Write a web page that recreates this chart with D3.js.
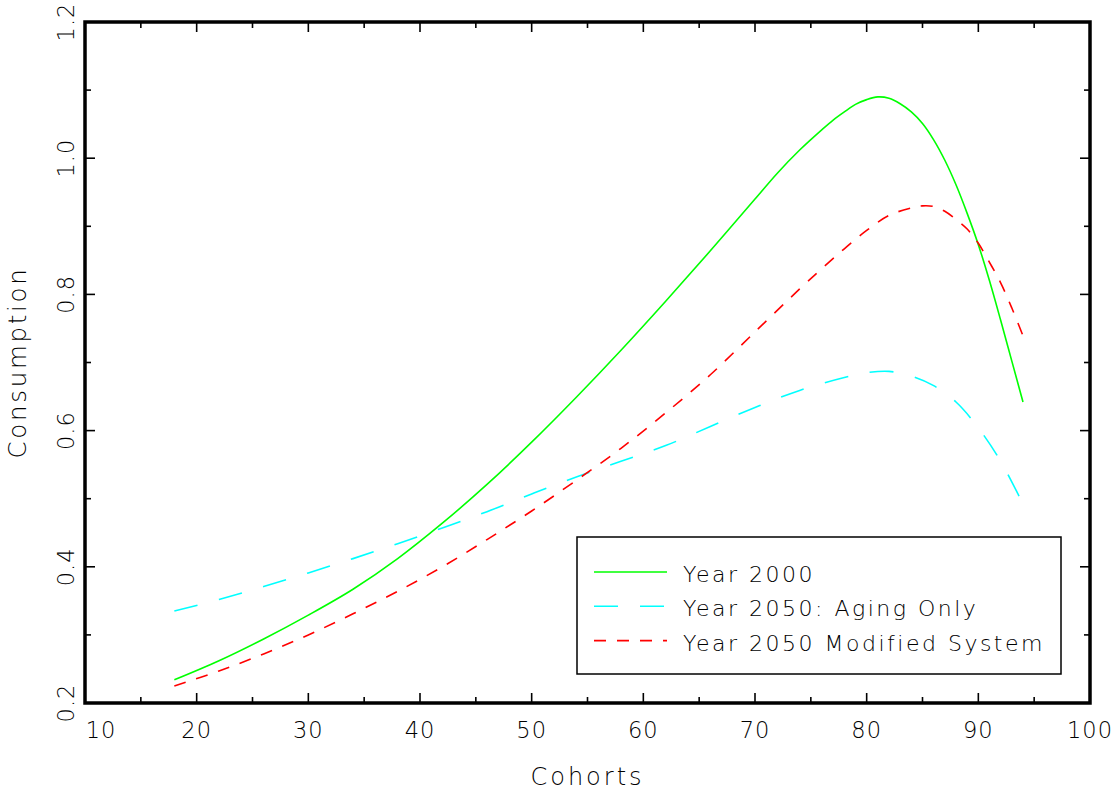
<!DOCTYPE html>
<html>
<head>
<meta charset="utf-8">
<script src="https://cdn.jsdelivr.net/npm/d3@7"></script>
<style>
  body { margin: 0; background: #fff; }
  text { font-family: 'DejaVu Sans', sans-serif; font-weight: 300; fill: #000; }
</style>
</head>
<body>
<div id="chart-1"></div>
<script>
// values
let ages2000 = [18, 22, 26, 30, 34, 38, 42, 46, 50, 54, 58, 62, 66, 70, 72, 74, 76, 77, 78, 79, 80, 81, 82, 83, 84, 85, 86, 87, 88, 89, 90, 91, 92, 93, 94]
let year2000 = [0.234, 0.262, 0.294, 0.329, 0.367, 0.412, 0.464, 0.521, 0.583, 0.649, 0.718, 0.790, 0.864, 0.940, 0.978, 1.012, 1.042, 1.056, 1.068, 1.079, 1.086, 1.090, 1.088, 1.080, 1.068, 1.051, 1.027, 0.997, 0.961, 0.919, 0.873, 0.820, 0.762, 0.702, 0.642]

let agesAging = [18, 22, 26, 30, 34, 38, 42, 46, 50, 54, 58, 62, 66, 70, 74, 78, 80, 82, 84, 86, 88, 90, 92, 94]
let year2050Aging = [0.335, 0.352, 0.371, 0.391, 0.412, 0.434, 0.457, 0.481, 0.507, 0.532, 0.555, 0.578, 0.606, 0.634, 0.659, 0.678, 0.685, 0.687, 0.680, 0.666, 0.642, 0.604, 0.555, 0.492]

let agesModified = [18, 22, 26, 30, 34, 38, 42, 46, 50, 54, 58, 62, 66, 70, 74, 76, 78, 80, 82, 84, 85, 86, 87, 88, 89, 90, 91, 92, 93, 94]
let year2050Modified = [0.225, 0.247, 0.272, 0.300, 0.331, 0.364, 0.400, 0.440, 0.482, 0.527, 0.574, 0.626, 0.682, 0.745, 0.808, 0.838, 0.867, 0.894, 0.916, 0.927, 0.930, 0.929, 0.922, 0.910, 0.896, 0.875, 0.847, 0.817, 0.780, 0.739]

let legendLabels = ['Year 2000', 'Year 2050: Aging Only', 'Year 2050 Modified System']
let xTicks = [10, 20, 30, 40, 50, 60, 70, 80, 90, 100]
let yTicks = [0.2, 0.4, 0.6, 0.8, 1.0, 1.2]

let margin = { top: 22, left: 85, right: 23, bottom: 88 }
let width = 1113 - margin.left - margin.right
let height = 791 - margin.top - margin.bottom

let svg = d3
  .select('#chart-1')
  .append('svg')
  .attr('width', 1113)
  .attr('height', 791)
  .append('g')
  .attr('transform', 'translate(' + margin.left + ',' + margin.top + ')')

let x = d3.scaleLinear().domain([10, 100]).range([0, width])
let y = d3.scaleLinear().domain([0.2, 1.2]).range([height, 0])

let series = [
  { ages: ages2000, values: year2000, color: '#00ff00', dash: null },
  { ages: agesAging, values: year2050Aging, color: '#00ffff', dash: '24,22' },
  { ages: agesModified, values: year2050Modified, color: '#ff0000', dash: '12,11' }
]

let line = d3.line()
  .x(d => x(d[0]))
  .y(d => y(d[1]))
  .curve(d3.curveCatmullRom.alpha(0.5))

svg.selectAll('.curve')
  .data(series)
  .enter()
  .append('path')
  .attr('class', 'curve')
  .attr('d', s => line(s.ages.map((a, i) => [a, s.values[i]])))
  .attr('fill', 'none')
  .attr('stroke', s => s.color)
  .attr('stroke-width', 1.6)
  .attr('stroke-dasharray', s => s.dash)

// ticks, inward, on all four sides
let xMinor = d3.range(15, 100, 10)
let yMinor = d3.range(0.3, 1.2, 0.2)

function tickLines(cls, data, f) {
  svg.selectAll('.' + cls)
    .data(data)
    .enter()
    .append('line')
    .attr('class', cls)
    .each(function (d) {
      let c = f(d)
      d3.select(this).attr('x1', c[0]).attr('y1', c[1]).attr('x2', c[2]).attr('y2', c[3])
    })
    .attr('stroke', '#000')
    .attr('stroke-width', 1.6)
}

tickLines('xt-b', xTicks, d => [x(d), height, x(d), height - 10])
tickLines('xt-t', xTicks, d => [x(d), 0, x(d), 10])
tickLines('xm-b', xMinor, d => [x(d), height, x(d), height - 6])
tickLines('xm-t', xMinor, d => [x(d), 0, x(d), 6])
tickLines('yt-l', yTicks, d => [0, y(d), 10, y(d)])
tickLines('yt-r', yTicks, d => [width, y(d), width - 10, y(d)])
tickLines('ym-l', yMinor, d => [0, y(d), 6, y(d)])
tickLines('ym-r', yMinor, d => [width, y(d), width - 6, y(d)])

// frame
svg.append('rect')
  .attr('x', 0)
  .attr('y', 0)
  .attr('width', width)
  .attr('height', height)
  .attr('fill', 'none')
  .attr('stroke', '#000')
  .attr('stroke-width', 3.5)

// tick labels
svg.selectAll('.xlabel')
  .data(xTicks)
  .enter()
  .append('text')
  .attr('class', 'xlabel')
  .attr('x', d => d === 10 ? x(d) + 16 : x(d))
  .attr('y', height + 35)
  .attr('text-anchor', 'middle')
  .attr('font-size', 22.5)
  .attr('letter-spacing', 1)
  .text(d => d)

svg.selectAll('.ylabel')
  .data(yTicks)
  .enter()
  .append('text')
  .attr('class', 'ylabel')
  .attr('transform', d => 'translate(-11,' + y(d) + ') rotate(-90)')
  .attr('text-anchor', 'middle')
  .attr('font-size', 22.5)
  .attr('letter-spacing', 1)
  .text(d => d.toFixed(1))

// axis titles
svg.append('text')
  .attr('x', width / 2)
  .attr('y', height + 82)
  .attr('text-anchor', 'middle')
  .attr('font-size', 24)
  .attr('letter-spacing', 3)
  .text('Cohorts')

svg.append('text')
  .attr('transform', 'translate(-59,' + height / 2 + ') rotate(-90)')
  .attr('text-anchor', 'middle')
  .attr('font-size', 24.5)
  .attr('letter-spacing', 2.7)
  .text('Consumption')

// legend
let legend = svg.append('g')
  .attr('transform', 'translate(' + (577 - margin.left) + ',' + (537 - margin.top) + ')')

legend.append('rect')
  .attr('width', 484)
  .attr('height', 137)
  .attr('fill', '#fff')
  .attr('stroke', '#000')
  .attr('stroke-width', 1.5)

let rows = legend.selectAll('.row')
  .data(series)
  .enter()
  .append('g')
  .attr('class', 'row')
  .attr('transform', (d, i) => 'translate(0,' + (35 + i * 34.3) + ')')

rows.append('line')
  .attr('x1', 17)
  .attr('x2', 90)
  .attr('stroke', d => d.color)
  .attr('stroke-width', 1.6)
  .attr('stroke-dasharray', d => d.dash)

rows.append('text')
  .attr('x', 106)
  .attr('y', 10)
  .attr('font-size', 22)
  .attr('letter-spacing', 2.5)
  .text((d, i) => legendLabels[i])
</script>
</body>
</html>
